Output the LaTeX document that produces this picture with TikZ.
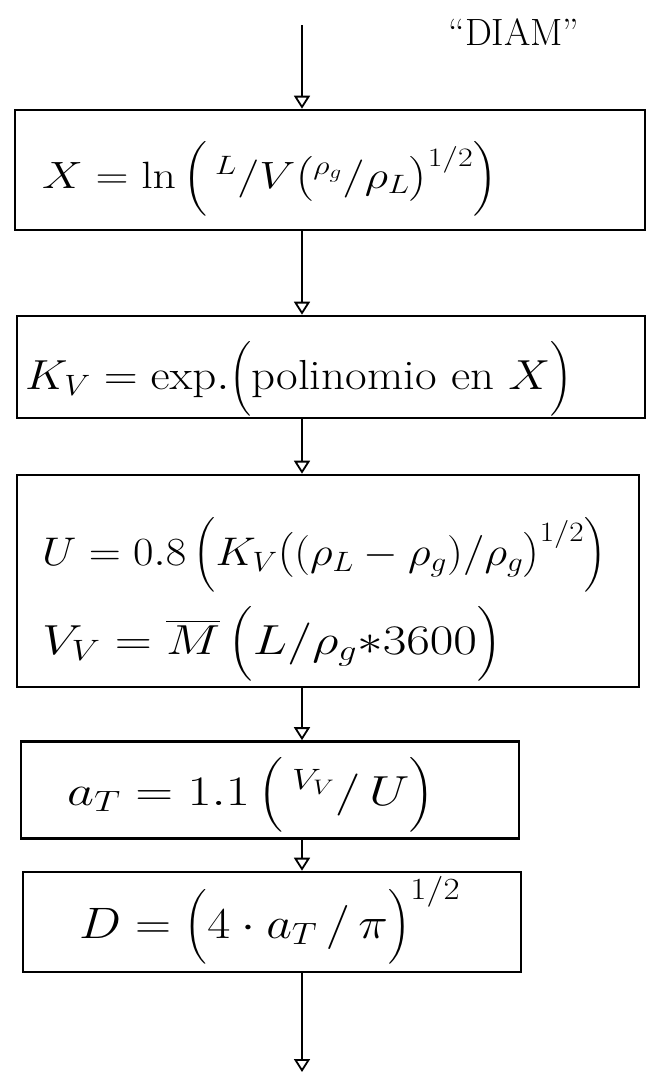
\RequirePackage{fix-cm}
\documentclass[tikz,border=0pt]{standalone}
\usepackage{amsmath}
\usepackage{graphicx}
\usetikzlibrary{arrows.meta}
\newcommand\fitw[2]{\resizebox{#1}{\height}{#2}}
\begin{document}
\begin{tikzpicture}[x=1pt,y=-1pt,
  box/.style 2 args={draw, line width=2.6pt, minimum width=#1, minimum height=#2, inner sep=0pt},
  txt/.style={anchor=base west, inner sep=0pt, font=\fontsize{#1}{#1}\selectfont},
  arr/.style={line width=1.8pt, -{Triangle[open, width=16pt, length=13pt, line width=1.8pt]}},
  lbl/.style={inner sep=0pt, font=\fontsize{38}{42}\selectfont}]
\fill[white] (0,0) rectangle (655,1077);
\useasboundingbox (0,0) rectangle (655,1077);
% boxes
\node[box={630pt}{120pt}] (b1) at (330,170) {};
\node[box={628pt}{102pt}] (b2) at (331,367) {};
\node[box={622pt}{212pt}] (b3) at (328,581) {};
\node[box={498pt}{97pt}]  (b4) at (270,790) {};
\node[box={498pt}{100pt}] (b5) at (272,922) {};
% texts
\node[txt=38] (t1) at (42,188) {\fitw{455pt}{$X= \ln\Big(\,{}^{L}/V\big({}^{\rho_g}/\rho_L\big)^{1/2}\Big)$}};
\node[txt=42] (t2) at (25,389) {\fitw{547pt}{$K_V = \mathrm{exp.}\Big(\text{polinomio en } X\Big)$}};
\node[txt=40] (t3a) at (42,565) {\fitw{564pt}{$U= 0.8\,\Big(K_V\big((\rho_L-\rho_g)/\rho_g\big)^{1/2}\Big)$}};
\node[txt=42] (t3b) at (42,654) {\fitw{459pt}{$V_V= \overline{M}\,\Big(L/\rho_g{*}3600\Big)$}};
\node[txt=42] (t4) at (67,805) {\fitw{367pt}{$a_T= 1.1\,\Big(\,{}^{V_V}/\,U\Big)$}};
\node[txt=44] (t5) at (79,938) {\fitw{381pt}{$D= \Big(4\cdot a_T\,/\,\pi\Big)^{1/2}$}};
\node[lbl] (title) at (514,32) {``DIAM''};
% connectors
\coordinate (top) at (302,25);
\coordinate (bot) at (302,1072);
\draw[arr] (top) -- (top |- b1.north);
\draw[arr] (top |- b1.south) -- (top |- b2.north);
\draw[arr] (top |- b2.south) -- (top |- b3.north);
\draw[arr] (top |- b3.south) -- (top |- b4.north);
\draw[arr] (top |- b4.south) -- (top |- b5.north);
\draw[arr] (top |- b5.south) -- (bot);
\end{tikzpicture}
\end{document}
